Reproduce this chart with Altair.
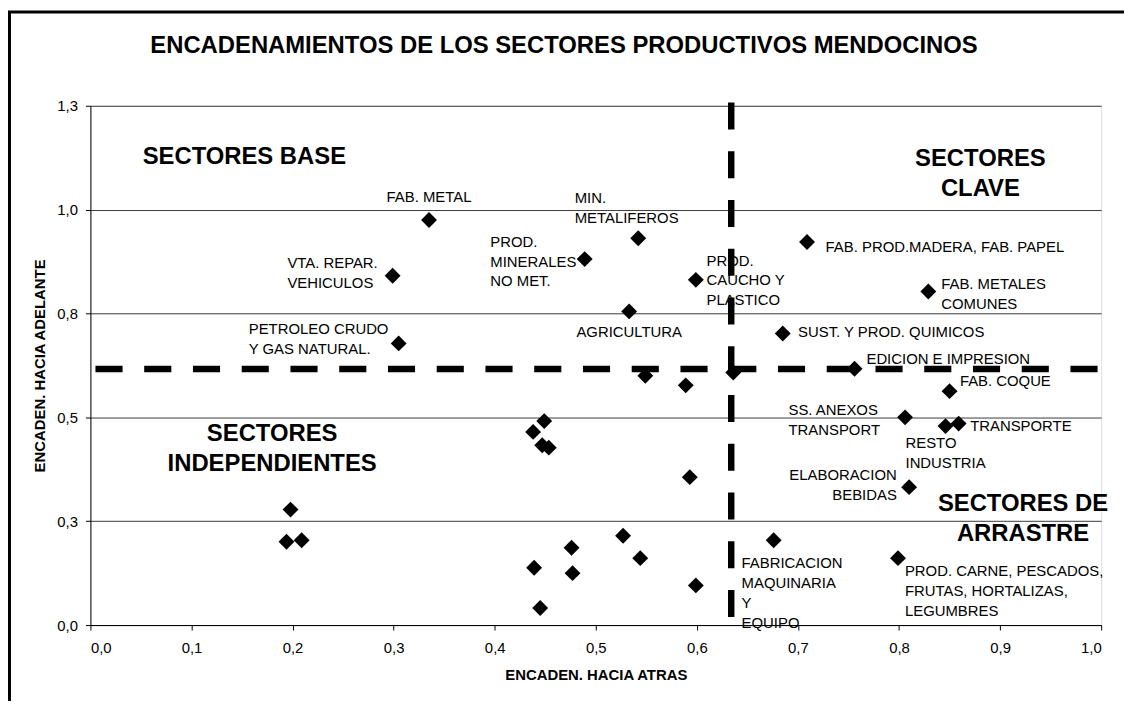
import altair as alt
import pandas as pd

# ---------------- data ----------------
sector_labels = [
    "FAB. METAL",
    "VTA. REPAR.\nVEHICULOS",
    "PETROLEO CRUDO\nY GAS NATURAL.",
    "PROD.\nMINERALES\nNO MET.",
    "MIN.\nMETALIFEROS",
    "PROD.\nCAUCHO Y\nPLASTICO",
    "AGRICULTURA",
    "FAB. PROD.MADERA, FAB. PAPEL",
    "FAB. METALES\nCOMUNES",
    "SUST. Y PROD. QUIMICOS",
    "EDICION E IMPRESION",
    "FAB. COQUE",
    "SS. ANEXOS\nTRANSPORT",
    "RESTO\nINDUSTRIA",
    "TRANSPORTE",
    "ELABORACION\nBEBIDAS",
    "FABRICACION\nMAQUINARIA\nY\nEQUIPO",
    "PROD. CARNE, PESCADOS,\nFRUTAS, HORTALIZAS,\nLEGUMBRES",
]
sector_x = [0.335, 0.299, 0.305, 0.489, 0.542, 0.599, 0.533, 0.709, 0.829,
            0.685, 0.756, 0.850, 0.806, 0.846, 0.859, 0.810, 0.676, 0.799]
sector_y = [0.975, 0.841, 0.678, 0.881, 0.931, 0.831, 0.755, 0.922, 0.803,
            0.702, 0.617, 0.563, 0.500, 0.479, 0.485, 0.332, 0.204, 0.161]

# label placement (alignment and pixel offset from its point)
label_align = ["center", "left", "left", "left", "left", "left", "center", "left", "left",
               "left", "left", "left", "left", "left", "left", "right", "left", "left"]
label_dx = [0, -106, -151, -95, -64, 10.7, 0, 18.7, 13,
            15.4, 12, 10.4, -117.4, -40.3, 11.6, -12.4, -32.3, 7]
label_dy = [-30.4, -20, -21.1, -24.4, -47.7, -26.4, 13.9, -2.1, -14.4,
            -8.4, -17.1, -17.3, -14.5, 10.5, -4.1, -19.4, 16.2, 6.2]

other_x = [0.549, 0.589, 0.636, 0.449, 0.438, 0.447, 0.4535, 0.593, 0.527,
           0.476, 0.544, 0.439, 0.477, 0.599, 0.445, 0.198, 0.194, 0.209]
other_y = [0.600, 0.577, 0.608, 0.491, 0.465, 0.433, 0.427, 0.356, 0.215,
           0.186, 0.161, 0.138, 0.125, 0.0955, 0.041, 0.278, 0.2005, 0.204]

quadrant_text = ["SECTORES BASE", "SECTORES\nCLAVE", "SECTORES\nINDEPENDIENTES", "SECTORES DE\nARRASTRE"]
quadrant_x = [0.1523, 0.8805, 0.1798, 0.9227]
quadrant_y = [1.1554, 1.1506, 0.4888, 0.3200]

avg_backward = 0.634   # vertical dashed line
avg_forward = 0.6165   # horizontal dashed line

x_ticks = [0.0, 0.1, 0.2, 0.3, 0.4, 0.5, 0.6, 0.7, 0.8, 0.9, 1.0]
y_ticks = [0.0, 0.25, 0.5, 0.75, 1.0, 1.25]

# ---------------- layout ----------------
W, H = 1018, 523
XMAX, YMAX = 1.0, 1.25
FONT = "Liberation Sans"

xs = alt.Scale(domain=[0, XMAX], nice=False, zero=False)
ys = alt.Scale(domain=[0, YMAX], nice=False, zero=False)

pts = pd.DataFrame({"x": sector_x + other_x, "y": sector_y + other_y})

lab = pd.DataFrame({"label": sector_labels, "x": sector_x, "y": sector_y,
                    "align": label_align, "dx": label_dx, "dy": label_dy})
lab["lx"] = lab["x"] + lab["dx"] * XMAX / W
lab["ly"] = lab["y"] - lab["dy"] * YMAX / H

quad = pd.DataFrame({"label": quadrant_text, "x": quadrant_x, "y": quadrant_y})

hline = pd.DataFrame({"x": [0.005], "x2": [XMAX], "y": [avg_forward]})
vline = pd.DataFrame({"x": [avg_backward], "y": [1.258], "y2": [0.0]})

label_expr = "replace(format(datum.value, '.1f'), '.', ',')"

x_axis = alt.Axis(values=x_ticks, labelExpr=label_expr, grid=False,
                  title="ENCADEN. HACIA ATRAS", titleY=43.3, titleBaseline="top",
                  labelPadding=11)
y_axis = alt.Axis(values=y_ticks, labelExpr=label_expr, grid=True,
                  gridColor="#3a3a3a", gridWidth=1,
                  title="ENCADEN. HACIA ADELANTE", titleAngle=270, titleBaseline="bottom",
                  titleAlign="center", titleX=-42.8, titleY=H / 2, labelPadding=8)

border = alt.Chart(alt.Data(values=[{}])).mark_rect(
    fill="white", fillOpacity=0, stroke="black", strokeWidth=3
).encode(x=alt.value(-81.5), x2=alt.value(1300), y=alt.value(-94.5), y2=alt.value(900))

points = alt.Chart(pts).mark_point(
    shape="diamond", filled=True, color="black", size=256, opacity=1
).encode(x=alt.X("x:Q", scale=xs, axis=x_axis), y=alt.Y("y:Q", scale=ys, axis=y_axis))

text_layers = []
for al in ["left", "center", "right"]:
    text_layers.append(
        alt.Chart(lab).transform_filter(alt.datum.align == al).mark_text(
            align=al, baseline="top", font=FONT, fontSize=15, color="black",
            lineBreak="\n", lineHeight=20
        ).encode(x=alt.X("lx:Q", scale=xs), y=alt.Y("ly:Q", scale=ys), text="label:N")
    )

quad_text = alt.Chart(quad).mark_text(
    align="center", baseline="top", font=FONT, fontSize=24, fontWeight="bold",
    color="black", lineBreak="\n", lineHeight=30.5
).encode(x=alt.X("x:Q", scale=xs), y=alt.Y("y:Q", scale=ys), text="label:N")

h_rule = alt.Chart(hline).mark_rule(
    color="black", strokeWidth=6.5, strokeDash=[27.3, 21.8], strokeCap="butt"
).encode(x=alt.X("x:Q", scale=xs), x2="x2:Q", y=alt.Y("y:Q", scale=ys))

v_rule = alt.Chart(vline).mark_rule(
    color="black", strokeWidth=6.5, strokeDash=[27.3, 21.8], strokeCap="butt"
).encode(x=alt.X("x:Q", scale=xs), y=alt.Y("y:Q", scale=ys), y2="y2:Q")

chart = alt.layer(border, points, *text_layers, quad_text, h_rule, v_rule).properties(
    width=W, height=H,
    autosize=alt.AutoSizeParams(type="none"),
    padding={"left": 83, "top": 96, "right": 23, "bottom": 74},
    title=alt.TitleParams(
        text="ENCADENAMIENTOS DE LOS SECTORES PRODUCTIVOS MENDOCINOS",
        font=FONT, fontSize=24, fontWeight="bold", color="black",
        anchor="middle", frame="group", baseline="alphabetic", offset=-66.5, dx=-32
    ),
).configure_view(stroke=None).configure(background="white", font=FONT).configure_axis(
    labelFont=FONT, labelFontSize=15, labelColor="black",
    titleFont=FONT, titleFontSize=15, titleFontWeight="bold", titleColor="black",
    domainColor="black", domainWidth=1, tickColor="black", tickSize=5, tickWidth=1
)

chart.save("out.html", embed_options={"renderer": "svg", "actions": False})
